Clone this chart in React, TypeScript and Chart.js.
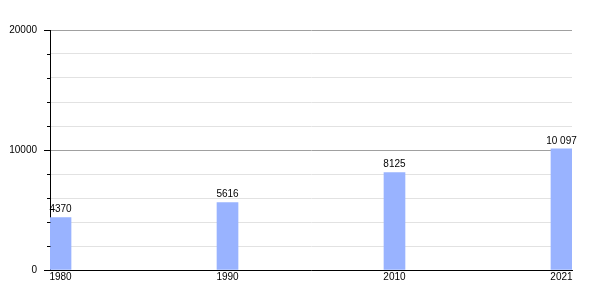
import React, { useEffect, useRef } from "react";
import { Chart, registerables } from "chart.js";

Chart.register(...registerables);

const categories = ["1980", "1990", "2010", "2021"];
const population = [4370, 5616, 8125, 10097];
const yTickLabels = [0, 10000, 20000];

const FONT = '"Liberation Sans", Arial, sans-serif';

function fmt(v: number): string {
  const s = String(v);
  return s.length > 4 ? s.replace(/\B(?=(\d{3})+(?!\d))/g, " ") : s;
}

const decorPlugin = {
  id: "decor",
  afterDraw(chart: any) {
    const ctx = chart.ctx;
    const y = chart.scales.y;
    const left = chart.chartArea.left;
    ctx.save();
    ctx.strokeStyle = "#000";
    ctx.lineWidth = 1;
    y.ticks.forEach((t: any) => {
      const py = Math.round(y.getPixelForValue(t.value)) + 0.5;
      const len = yTickLabels.includes(t.value) ? 6 : 3;
      ctx.beginPath();
      ctx.moveTo(left - len, py);
      ctx.lineTo(left + 0.5, py);
      ctx.stroke();
    });
    ctx.fillStyle = "#000";
    ctx.font = `10px ${FONT}`;
    ctx.textAlign = "center";
    ctx.textBaseline = "bottom";
    const meta = chart.getDatasetMeta(0);
    meta.data.forEach((bar: any, i: number) => {
      ctx.fillText(fmt(population[i]), bar.x, bar.y - 3);
    });
    ctx.restore();
  },
};

export default function App() {
  const ref = useRef<HTMLCanvasElement>(null);
  useEffect(() => {
    if (!ref.current) return;
    const chart = new Chart(ref.current, {
      type: "bar",
      data: {
        datasets: [
          {
            data: categories.map((c, i) => ({ x: i, y: population[i] })),
            backgroundColor: "#99b3ff",
            barThickness: 21,
          },
        ],
      },
      options: {
        responsive: false,
        animation: false,
        layout: { padding: { top: 30, right: 28, left: 0, bottom: 0 } },
        plugins: { legend: { display: false }, tooltip: { enabled: false } },
        scales: {
          x: {
            type: "linear",
            offset: false,
            min: -0.063,
            max: 3.063,
            afterBuildTicks: (scale: any) => {
              scale.ticks = categories.map((c, i) => ({ value: i }));
            },
            afterFit: (scale: any) => {
              scale.height = 30;
            },
            grid: { display: false, drawTicks: false, offset: false },
            border: { display: true, color: "#000", width: 1 },
            ticks: {
              padding: 1,
              color: "#000",
              font: { family: FONT, size: 10 },
              maxRotation: 0,
              autoSkip: false,
              callback: (v: any) => categories[v] ?? "",
            },
          },
          y: {
            min: 0,
            max: 20000,
            afterFit: (scale: any) => {
              scale.width = 50;
            },
            grid: {
              drawTicks: false,
              color: (ctx: any) =>
                ctx.tick && ctx.tick.value % 10000 === 0 ? "#a0a0a0" : "#e2e2e2",
            },
            border: { display: true, color: "#000", width: 1 },
            ticks: {
              stepSize: 2000,
              padding: 13,
              color: "#000",
              font: { family: FONT, size: 10 },
              callback: (v: any) => (yTickLabels.includes(v) ? String(v) : ""),
            },
          },
        },
      },
      plugins: [decorPlugin],
    });
    return () => chart.destroy();
  }, []);
  return (
    <div style={{ position: "absolute", left: 0, top: 0, width: 600, height: 300, background: "#fff" }}>
      <canvas ref={ref} width={600} height={300} />
    </div>
  );
}
